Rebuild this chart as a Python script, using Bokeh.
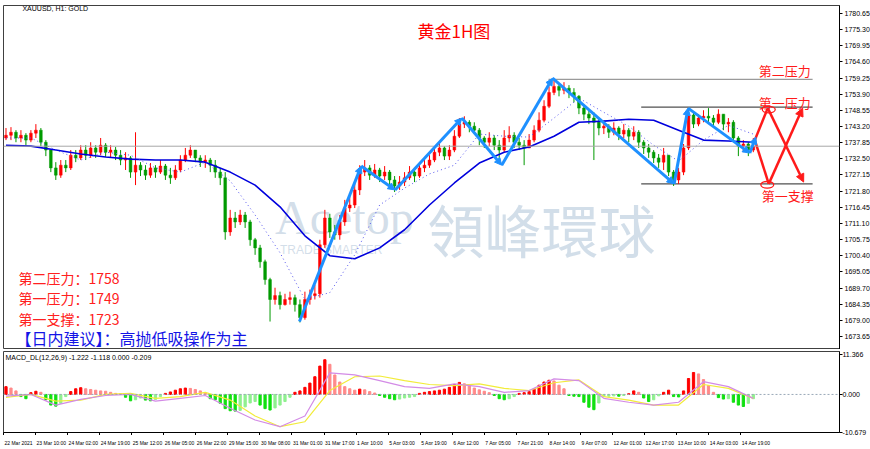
from bokeh.plotting import figure
from bokeh.layouts import column
from bokeh.models import (Range1d, FixedTicker, NumeralTickFormatter, Span, Label,
                          Arrow, NormalHead, ColumnDataSource)
from bokeh.core.properties import value
from bokeh.embed import file_html
from bokeh.resources import INLINE

# ---------------- data ----------------
first_open = 1739.4
close = [1740.3,1741.3,1739.4,1740.3,1738.7,1741.0,1742.0,1738.0,1735.4,1729.5,
         1727.1,1730.4,1729.5,1733.7,1732.8,1735.4,1733.7,1736.1,1734.7,1737.0,
         1734.7,1735.4,1733.7,1732.1,1732.8,1728.1,1730.4,1728.8,1727.1,1729.5,
         1728.1,1730.1,1727.1,1726.2,1728.8,1732.1,1733.7,1735.4,1732.8,1731.4,
         1732.1,1730.4,1728.1,1726.2,1708.3,1712.9,1711.6,1713.9,1711.6,1705.7,
         1703.0,1698.4,1692.5,1685.9,1687.2,1684.2,1685.9,1686.5,1684.2,1679.9,
         1685.9,1687.2,1687.8,1704.0,1712.9,1708.3,1707.3,1711.6,1716.2,1717.2,
         1722.2,1728.1,1729.5,1727.1,1728.8,1726.8,1728.1,1725.5,1723.5,1724.8,
         1726.2,1728.1,1726.8,1729.5,1730.4,1732.1,1734.7,1736.1,1733.4,1735.4,
         1740.0,1744.0,1744.6,1743.3,1742.0,1739.4,1738.0,1739.4,1737.0,1735.4,
         1739.4,1740.3,1738.0,1737.0,1736.1,1738.7,1742.0,1745.3,1749.9,1754.5,
         1756.5,1755.2,1755.9,1754.5,1753.2,1749.3,1747.3,1746.0,1744.6,1742.7,
         1743.3,1741.3,1742.7,1740.7,1742.0,1740.0,1741.3,1738.0,1736.1,1734.7,
         1732.8,1731.4,1733.7,1728.1,1725.5,1728.1,1736.1,1747.0,1744.0,1746.0,
         1746.6,1746.0,1744.6,1747.3,1744.0,1744.6,1739.4,1736.7,1737.4,1735.4,
         1736.7]
high = [1742.7,1743.0,1742.0,1742.0,1741.0,1742.0,1744.0,1742.7,1738.7,1735.4,
        1731.4,1732.1,1732.1,1735.4,1735.4,1737.0,1737.0,1738.0,1737.0,1739.4,
        1737.7,1737.0,1736.4,1735.4,1734.7,1733.4,1741.3,1731.4,1730.4,1731.1,
        1730.4,1732.1,1730.8,1729.5,1730.4,1733.7,1736.1,1737.0,1735.4,1733.7,
        1733.7,1732.8,1732.1,1729.5,1728.1,1715.6,1714.9,1715.6,1714.9,1712.3,
        1706.3,1704.0,1699.1,1693.1,1689.8,1688.5,1687.8,1688.5,1687.5,1685.9,
        1688.5,1689.2,1690.8,1705.7,1715.6,1714.3,1710.6,1713.9,1718.9,1720.5,
        1724.8,1730.4,1732.1,1730.4,1730.8,1729.5,1730.1,1728.8,1726.8,1726.8,
        1728.1,1730.1,1729.5,1731.4,1732.8,1733.7,1736.7,1738.0,1736.7,1737.0,
        1742.0,1746.0,1746.6,1745.3,1744.6,1742.7,1740.0,1741.3,1740.3,1738.7,
        1742.0,1743.3,1741.3,1739.4,1738.7,1740.7,1743.6,1747.9,1751.9,1756.5,
        1758.9,1757.2,1757.9,1756.9,1755.9,1753.6,1750.3,1748.6,1747.9,1746.0,
        1745.3,1744.0,1744.6,1743.3,1744.0,1742.7,1743.3,1742.0,1738.7,1737.4,
        1735.4,1734.1,1736.1,1733.4,1728.8,1729.5,1737.4,1749.3,1747.9,1747.3,
        1748.6,1749.3,1747.0,1748.9,1746.6,1746.0,1745.3,1740.0,1738.7,1738.0,
        1739.4]
low = [1738.7,1738.7,1738.0,1738.0,1737.0,1738.0,1739.4,1736.7,1733.4,1728.1,
       1725.5,1726.2,1728.1,1728.8,1731.4,1732.1,1732.1,1732.8,1732.8,1733.7,
       1733.1,1732.8,1732.1,1730.4,1728.8,1726.2,1723.8,1726.8,1725.5,1726.2,
       1726.2,1727.5,1725.5,1724.2,1725.5,1728.1,1731.4,1732.8,1731.4,1729.8,
       1729.5,1728.1,1726.2,1723.8,1705.7,1707.0,1709.6,1710.6,1709.6,1703.7,
       1700.7,1696.4,1690.8,1678.6,1684.2,1682.6,1683.9,1684.2,1681.9,1678.3,
       1679.2,1684.2,1685.9,1686.5,1703.0,1706.3,1705.7,1705.7,1710.3,1714.9,
       1716.2,1720.5,1726.8,1725.5,1726.2,1724.8,1725.5,1723.5,1721.5,1722.2,
       1723.5,1725.5,1724.8,1726.2,1728.1,1729.5,1731.4,1733.4,1732.1,1732.1,
       1734.7,1739.4,1742.7,1741.3,1740.7,1737.0,1736.1,1736.7,1735.4,1731.4,
       1734.7,1738.0,1736.1,1735.4,1730.4,1736.1,1738.0,1741.3,1744.6,1749.3,
       1753.6,1753.2,1753.9,1752.6,1751.2,1747.3,1745.3,1744.0,1732.1,1740.3,
       1740.7,1739.4,1740.3,1738.7,1739.4,1738.0,1738.7,1736.1,1734.1,1732.8,
       1731.1,1729.5,1728.8,1726.8,1723.5,1724.2,1727.1,1735.4,1742.7,1743.3,
       1744.6,1744.0,1743.3,1744.0,1742.0,1741.3,1738.0,1733.4,1734.7,1733.4,
       1734.7]

# moving averages sampled every 5 bars
ma_step = 5
ma_slow = [1737.0,1736.7,1735.4,1734.1,1733.1,1732.4,1732.1,1732.1,1731.4,1728.1,
           1723.8,1716.6,1707.0,1700.4,1699.4,1703.0,1709.0,1717.2,1724.5,1731.1,
           1734.7,1736.4,1740.0,1744.6,1745.0,1745.6,1745.3,1742.0,1738.7,1738.4,
           1738.0]
ma_fast = [1739.4,1739.4,1735.4,1732.1,1734.7,1733.7,1729.5,1728.1,1731.4,1725.2,
           1713.9,1701.4,1685.9,1688.2,1700.7,1717.2,1722.8,1727.5,1730.4,1740.7,
           1740.0,1739.7,1746.0,1752.6,1747.9,1743.3,1737.0,1731.7,1738.7,1743.6,
           1740.7]

# MACD panel
macd_hist = [2.2,1.8,1.0,-0.6,-1.2,0.5,0.9,0.6,-1.5,-3.0,
             -3.3,-2.5,-0.6,0.8,1.6,1.9,1.6,1.4,1.2,1.0,
             0.9,0.6,0.3,0.2,-0.8,-1.8,-1.5,-1.0,-1.6,-1.8,
             -1.4,-0.6,0.3,0.7,1.2,1.6,1.8,1.7,1.4,1.0,
             0.4,-1.2,-1.5,-2.5,-4.0,-4.6,-4.7,-4.5,-3.5,-2.4,
             -2.0,-3.0,-4.0,-4.4,-3.8,-3.0,-2.0,-0.8,0.6,1.0,
             2.0,3.2,5.0,8.0,9.8,8.5,5.5,3.5,2.2,1.6,
             1.2,1.5,1.3,0.8,0.4,-0.3,-0.8,-1.2,-1.5,-1.3,
             -1.0,-0.8,-0.6,0.3,0.6,0.8,1.0,1.2,1.5,2.0,
             2.8,3.4,3.0,2.4,1.8,1.3,0.9,0.5,-0.3,-1.2,
             -1.5,-1.2,-0.6,0.3,0.5,0.8,1.5,2.6,3.5,4.0,
             3.8,2.6,1.6,-0.3,-0.5,-0.6,-2.2,-3.6,-4.3,-2.4,
             -0.6,-0.5,-0.4,-0.5,-0.3,0.2,1.0,0.6,-1.0,-2.0,
             -1.5,-0.4,0.6,1.2,-0.6,-0.7,1.0,4.5,6.2,5.8,
             4.2,2.5,0.6,-0.9,-1.3,-1.2,-2.2,-3.0,-3.4,-2.5,
             -1.2]
macd_main = [-0.5,0.0,-3.0,-1.4,-0.3,0.0,-1.9,-1.1,-0.3,-3.9,
             -7.2,-9.1,-6.1,6.1,5.5,3.9,2.2,1.7,3.0,2.2,
             0.6,1.1,4.4,3.9,-1.1,-2.2,-3.0,-2.2,3.6,2.2,
             -1.1]
macd_signal = [-0.8,0.0,-1.9,-1.6,0.0,0.3,-1.1,-0.6,0.6,-1.6,
               -6.1,-9.1,-7.7,1.1,5.0,5.2,3.9,2.8,2.5,3.0,
               1.7,1.1,3.3,4.1,-0.6,-1.6,-3.0,-3.0,2.8,1.7,
               -1.1]

# drawn objects
zig_x = [58.9, 71.3, 78.1, 91.5, 99.5, 109.7, 134.1, 136.9, 149.3, 150.5]
zig_y = [1678.6, 1730.1, 1722.2, 1746.0, 1730.4, 1759.2, 1724.2, 1749.3, 1734.4, 1739.7]
x_start_pt = (150.3, 1738.7)
x_top = (152.9, 1749.3)
x_bot = (153.1, 1724.2)
x_end_low = (160.1, 1724.8)
x_end_high = (159.9, 1749.3)
level_values = [1758.85, 1749.6, 1724.2]
level_start = [108.9, 127.5, 127.5]
level_end = 161.9
level_names = ["第二压力", "第一压力", "第一支撑"]
current_price = 1736.68

price_ticks = [1780.65, 1775.30, 1769.95, 1764.60, 1759.25, 1753.90, 1748.55, 1743.20,
               1737.85, 1732.50, 1727.15, 1721.80, 1716.45, 1711.10, 1705.75, 1700.40,
               1695.05, 1689.70, 1684.35, 1679.00, 1673.65]
macd_ticks = [11.366, 0.0, -10.679]
time_labels = ["22 Mar 2021", "23 Mar 10:00", "24 Mar 02:00", "24 Mar 19:00", "25 Mar 12:00",
               "26 Mar 05:00", "26 Mar 22:00", "29 Mar 15:00", "30 Mar 08:00", "31 Mar 01:00",
               "31 Mar 17:00", "1 Apr 10:00", "5 Apr 03:00", "5 Apr 19:00", "6 Apr 12:00",
               "7 Apr 05:00", "7 Apr 21:00", "8 Apr 14:00", "9 Apr 07:00", "12 Apr 01:00",
               "12 Apr 17:00", "13 Apr 10:00", "14 Apr 03:00", "14 Apr 19:00"]
label_every = 6.434

# ---------------- derived ----------------
n = len(close)
idx = list(range(n))
opens = [first_open] + close[:-1]
hi = [max(h, o, c) for h, o, c in zip(high, opens, close)]
lo = [min(l, o, c) for l, o, c in zip(low, opens, close)]
up = [c >= o for o, c in zip(opens, close)]
RED = "#FF0000"
GREEN = "#009A00"
col = [RED if u else GREEN for u in up]
top = [max(o, c) + (0.15 if abs(c - o) < 0.3 else 0) for o, c in zip(opens, close)]
bot = [min(o, c) for o, c in zip(opens, close)]
csrc = ColumnDataSource(dict(x=idx, hi=hi, lo=lo, top=top, bot=bot, col=col))

ma_x = list(range(0, n, ma_step))

FW = 836
xr = Range1d(-0.5, 167.3)
SMALL = "Liberation Sans"
CJK = "Noto Sans CJK SC"
WM = "#BFD0E0"

p = figure(frame_width=FW, frame_height=344, x_range=xr, y_range=Range1d(1669.34, 1783.29),
           x_axis_location=None, y_axis_location="right", output_backend="svg",
           toolbar_location=None, min_border_left=3, min_border_top=5, min_border_bottom=0,
           min_border_right=0)
p.grid.visible = False
p.outline_line_color = "#404040"
ya = p.yaxis[0]
ya.ticker = FixedTicker(ticks=price_ticks)
ya.formatter = NumeralTickFormatter(format="0.00")
ya.major_label_text_font = SMALL
ya.major_label_text_font_size = "7px"
ya.major_label_text_color = "#000000"
ya.major_tick_in = 0
ya.major_tick_out = 3
ya.minor_tick_out = 0
ya.minor_tick_in = 0
ya.major_label_standoff = 2
ya.axis_line_color = "#000000"

# watermark
p.add_layout(Label(x=54.0, y=1713.0, text="Acetop", text_font="Liberation Serif",
                   text_font_size="48px", text_color=WM, text_alpha=0.7,
                   text_baseline="middle", text_align="left", level="underlay"))
p.add_layout(Label(x=84.6, y=1709.6, text="領峰環球", text_font="Noto Sans CJK TC",
                   text_font_size="57px", text_color=WM, text_alpha=0.7,
                   text_baseline="middle", text_align="left", level="underlay"))
p.add_layout(Label(x=55.0, y=1702.4, text="TRADE SMARTER", text_font=SMALL,
                   text_font_size="12px", text_color=WM, text_alpha=0.7,
                   text_baseline="middle", text_align="left", level="underlay"))

# current price line
p.add_layout(Span(location=current_price, dimension="width", line_color="#A8A8A8", line_width=1))

# levels
p.segment(x0=level_start, x1=[level_end] * 3, y0=level_values, y1=level_values,
          line_color=["#9A9A9A", "#505050", "#505050"], line_width=1.3)

# candles
p.segment(x0="x", x1="x", y0="lo", y1="hi", color="col", line_width=1, source=csrc)
p.vbar(x="x", width=0.55, top="top", bottom="bot", fill_color="col", line_color="col",
       line_width=0.5, source=csrc)

# moving averages
p.line(ma_x, ma_slow, line_color="#0000DD", line_width=1.6)
p.line(ma_x, ma_fast, line_color="#5555EE", line_width=1, line_dash="1 3")

# zigzag arrows
ZC = "#1E90FF"
for k in range(len(zig_x) - 1):
    p.add_layout(Arrow(end=NormalHead(size=7, fill_color=ZC, line_color=ZC),
                       x_start=zig_x[k], y_start=zig_y[k], x_end=zig_x[k + 1], y_end=zig_y[k + 1],
                       line_color=ZC, line_width=3))

# red scenario X
RC = "#FF1A1A"
p.segment(x0=[x_start_pt[0], x_start_pt[0]], y0=[x_start_pt[1], x_start_pt[1]],
          x1=[x_top[0], x_bot[0]], y1=[x_top[1], x_bot[1]], line_color=RC, line_width=2.5)
p.add_layout(Arrow(end=NormalHead(size=8, fill_color=RC, line_color=RC),
                   x_start=x_top[0], y_start=x_top[1], x_end=x_end_low[0], y_end=x_end_low[1],
                   line_color=RC, line_width=2.5))
p.add_layout(Arrow(end=NormalHead(size=8, fill_color=RC, line_color=RC),
                   x_start=x_bot[0], y_start=x_bot[1], x_end=x_end_high[0], y_end=x_end_high[1],
                   line_color=RC, line_width=2.5))
p.ellipse(x=[x_top[0] + 0.2, x_bot[0] - 0.3], y=[x_top[1] - 0.5, x_bot[1] - 0.3],
          width=2.6, height=2.2, fill_alpha=0, line_color=RC, line_width=1.3)

# texts in chart
p.add_layout(Label(x=3.3, y=1782.3, text="XAUUSD, H1:  GOLD", text_font=SMALL,
                   text_font_size="7px", text_color="#000000", text_baseline="middle"))
p.add_layout(Label(x=89.9, y=1775.0, text="黄金1H图", text_font=CJK, text_font_size="17px",
                   text_color="#FF0000", text_baseline="middle", text_align="center"))
lbl_pos = [(156.3, 1761.8), (156.3, 1751.2), (156.9, 1720.5)]
for name, (lx, ly) in zip(level_names, lbl_pos):
    p.add_layout(Label(x=lx, y=ly, text=name, text_font=CJK, text_font_size="13px",
                       text_color=RC, text_baseline="middle", text_align="center"))
left_lines = ["第二压力：1758", "第一压力：1749", "第一支撑：1723"]
left_y = [1693.1, 1686.5, 1679.6]
for tx, ly in zip(left_lines, left_y):
    p.add_layout(Label(x=2.5, y=ly, text=tx, text_font=CJK, text_font_size="14px",
                       text_color="#FF2020", text_baseline="middle"))
p.add_layout(Label(x=1.9, y=1673.0, text="【日内建议】：高抛低吸操作为主", text_font=CJK,
                   text_font_size="16px", text_color="#1414E6", text_baseline="middle"))
# current price tag on axis
p.add_layout(Label(x=167.3, y=current_price, x_offset=1, text="1736.68", text_font=SMALL,
                   text_font_size="7px", text_color="#FFFFFF", background_fill_color="#7D8EA8",
                   text_baseline="middle", text_align="left"))

# ---------------- MACD panel ----------------
YMIN, YMAX = -10.74, 12.12
m = figure(frame_width=FW, frame_height=81, x_range=xr, y_range=Range1d(YMIN, YMAX),
           y_axis_location="right", output_backend="svg", toolbar_location=None,
           min_border_left=3, min_border_top=2, min_border_bottom=0, min_border_right=0)
m.grid.visible = False
m.outline_line_color = "#404040"
hcol = []
for k, v in enumerate(macd_hist):
    prev = macd_hist[k - 1] if k > 0 else v
    if v >= 0:
        hcol.append("#FF0000" if v >= prev else "#FF8A8A")
    else:
        hcol.append("#10E010" if v <= prev else "#90F090")
m.vbar(x=idx, width=0.45, top=macd_hist, bottom=0, fill_color=hcol, line_color=hcol)
m.add_layout(Span(location=0, dimension="width", line_color="#9AA8B8", line_width=1,
                  line_dash="2 2"))
m.line(ma_x, macd_signal, line_color="#F2EC3A", line_width=1.2)
m.line(ma_x, macd_main, line_color="#D38BE6", line_width=1.2)
m.add_layout(Label(x=-0.1, y=10.4, text="MACD_DL(12,26,9) -1.222 -1.118 0.000 -0.209",
                   text_font=SMALL, text_font_size="7px", text_color="#000000",
                   text_baseline="middle"))
my = m.yaxis[0]
my.ticker = FixedTicker(ticks=macd_ticks)
my.formatter = NumeralTickFormatter(format="0.000")
for ax in (my, m.xaxis[0]):
    ax.major_label_text_font = SMALL
    ax.major_label_text_font_size = "7px"
    ax.major_label_text_color = "#000000"
    ax.major_tick_in = 0
    ax.major_tick_out = 3
    ax.minor_tick_in = 0
    ax.minor_tick_out = 0
    ax.major_label_standoff = 0
    ax.axis_line_color = "#000000"
tick_pos = [round(-0.5 + label_every * k, 3) for k in range(len(time_labels))]
xa = m.xaxis[0]
xa.ticker = FixedTicker(ticks=tick_pos)
xa.major_label_overrides = {tp: "" for tp in tick_pos}
xa.major_label_text_font_size = "1px"

# strip below the MACD panel carrying the time labels, left-aligned at the ticks
t = figure(frame_width=FW, frame_height=10, x_range=xr, y_range=Range1d(-1, 1),
           x_axis_location=None, y_axis_location=None, output_backend="svg",
           toolbar_location=None, min_border_left=3, min_border_top=0, min_border_bottom=0,
           min_border_right=0)
t.grid.visible = False
t.outline_line_color = None
t.text(x=tick_pos, y=[0.0] * len(tick_pos), text=time_labels, x_offset=1,
       text_font=value(SMALL), text_font_size=value("5px"), text_color="#000000",
       text_align="left", text_baseline="middle")

layout = column(p, m, t, spacing=0)
open("out.html", "w").write(file_html(layout, INLINE))
